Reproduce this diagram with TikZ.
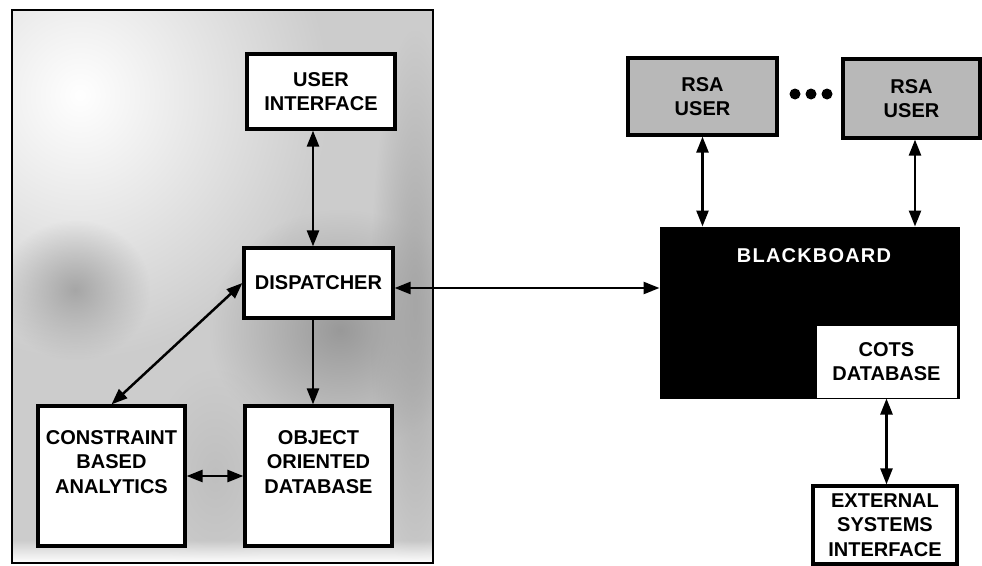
\documentclass[tikz,border=0pt]{standalone}
\usepackage{fontspec}
\setmainfont{Liberation Sans}
\usetikzlibrary{arrows.meta,fadings}
\tikzfading[name=softspot, inner color=transparent!0, outer color=transparent!100]
\begin{document}
\begin{tikzpicture}[x=1pt,y=-1pt,
  lbl/.style={font=\fontsize{20}{24.5}\selectfont\bfseries, align=center},
  box/.style={lbl, draw, line width=3.2pt, fill=white, inner sep=0pt},
  greybox/.style={box, fill=black!28},
  link/.style={line width=2.5pt, {Triangle[length=16pt,width=12pt]}-{Triangle[length=16pt,width=12pt]}},
  onelink/.style={line width=2.5pt, -{Triangle[length=16pt,width=12pt]}}]
\useasboundingbox (0,0) rectangle (982,565);
\fill[white] (0,0) rectangle (982,565);
% textured background of the left panel
\begin{scope}
  \clip (12,10) rectangle (433,563);
  \fill[black!20] (12,10) rectangle (433,563);
  \fill[white, path fading=softspot] (-170,-170) rectangle (330,360);
  \fill[black!40, path fading=softspot] (210,210) rectangle (470,450);
  \fill[black!35, path fading=softspot] (0,220) rectangle (150,360);
  \fill[black!35, path fading=softspot] (370,30) rectangle (460,580);
  \fill[black!25, path fading=softspot] (150,370) rectangle (280,580);
  \fill[white, path fading=north] (12,540) rectangle (433,563);
\end{scope}
\node[draw, line width=2.8pt, minimum width=421pt, minimum height=553pt, inner sep=0pt] (panel) at (222.5,286.5) {};
% left boxes
\node[box, minimum width=148pt, minimum height=75pt] (ui) at (321,91.5) {USER\\INTERFACE};
\node[box, minimum width=149pt, minimum height=70pt] (disp) at (318.5,283) {DISPATCHER};
\node[box, minimum width=147pt, minimum height=140pt] (cba) at (111.5,476) {CONSTRAINT\\BASED\\ANALYTICS\\[4pt]};
\node[box, minimum width=147pt, minimum height=140pt] (oo) at (318.5,476) {OBJECT\\ORIENTED\\DATABASE\\[4pt]};
% right side
\node[greybox, minimum width=149pt, minimum height=77pt] (rsa1) at (702.5,96.5) {RSA\\USER};
\node[greybox, minimum width=137pt, minimum height=79pt] (rsa2) at (911.5,98.5) {RSA\\USER};
\fill (795,94) circle (5.5pt) (811,94) circle (5.5pt) (827,94) circle (5.5pt);
\node[draw, fill=black, line width=1pt, minimum width=299pt, minimum height=171pt, inner sep=0pt] (bb) at (809.5,312.5) {};
\node[lbl, text=white, font=\fontsize{20}{24.5}\selectfont\bfseries\addfontfeature{LetterSpace=6}] (bbtext) at (814,256) {BLACKBOARD};
\node[box, line width=1pt, minimum width=141pt, minimum height=73pt] (cots) at (886.5,361.5) {COTS\\DATABASE};
\node[box, minimum width=144pt, minimum height=78pt] (ext) at (885,525) {EXTERNAL\\SYSTEMS\\INTERFACE};
% connectors
\coordinate (vx) at (313,0);
\coordinate (hy) at (0,288);
\coordinate (rx) at (915,0);
\draw[link] (ui.south -| vx) -- (disp.north -| vx);
\draw[onelink] (disp.south -| vx) -- (oo.north -| vx);
\draw[link] (disp.west) -- (cba.north);
\draw[link] (cba.east) -- (cba.east -| oo.west);
\draw[link] (disp.east |- hy) -- (bb.west |- hy);
\draw[link] (rsa1.south) -- (rsa1.south |- bb.north);
\draw[link] (rsa2.south -| rx) -- (bb.north -| rx);
\draw[link] (cots.south) -- (cots.south |- ext.north);
\end{tikzpicture}
\end{document}
